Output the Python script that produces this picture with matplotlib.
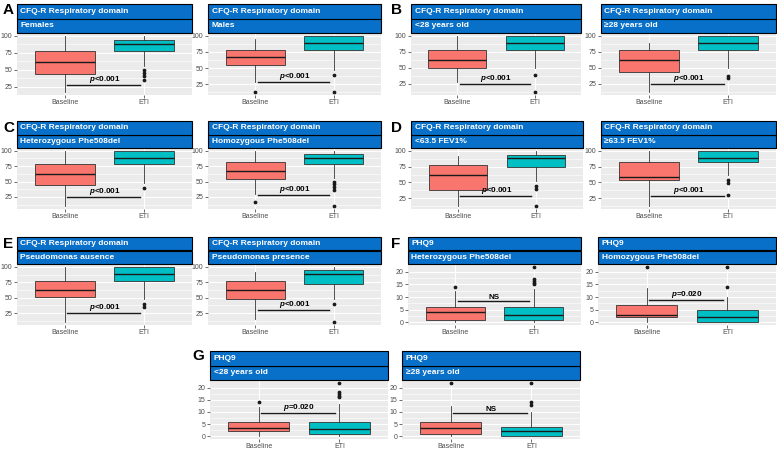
import matplotlib

matplotlib.use("Agg")
import matplotlib.pyplot as plt
from matplotlib.patches import Rectangle

plt.rcParams["font.family"] = ["Liberation Sans", "DejaVu Sans"]
plt.rcParams["mathtext.fontset"] = "custom"
plt.rcParams["mathtext.bfit"] = "Liberation Sans:italic:bold"
plt.rcParams["mathtext.rm"] = "Liberation Sans:bold"

# ---- data ----
groups = ["Baseline", "ETI"]
strip_top = ["CFQ-R Respiratory domain"] * 10 + ["PHQ9"] * 4
strip_sub = [
    "Females", "Males",
    "<28 years old", "≥28 years old",
    "Heterozygous Phe508del", "Homozygous Phe508del",
    "<63.5 FEV1%", "≥63.5 FEV1%",
    "Pseudomonas ausence", "Pseudomonas presence",
    "Heterozygous Phe508del", "Homozygous Phe508del",
    "<28 years old", "≥28 years old",
]
panel_letters = ["A", "B", "C", "D", "E", "F", "G"]

# Baseline box stats
base_lo = [17, 28, 28, 12, 10, 30, 12.5, 12, 10.5, 16, 0, 0, 0, 0]
base_q1 = [44, 54.5, 50, 44, 45, 55, 37.5, 54, 51, 47.5, 0.8, 2, 2, 1]
base_med = [61, 67, 62, 62, 62, 67, 62, 59, 62.5, 62.5, 4, 3, 3.5, 3.5]
base_q3 = [77, 78, 78, 78, 78, 81, 78, 82, 77.5, 77.5, 6, 7, 6, 6]
base_hi = [100, 95, 100, 89, 100, 100, 92.5, 100, 100, 91, 12.5, 13.5, 12, 12.5]
base_out = [[], [12.5], [], [], [], [17], [], [], [], [], [14], [22], [14], [22]]

# ETI box stats
eti_lo = [56, 47, 50, 50, 48, 56, 52, 62, 48, 48, 0, 0, 0, 0]
eti_q1 = [77, 78, 78, 78, 78, 78, 75, 82, 77.5, 72, 0.8, 0, 1, 0]
eti_med = [88, 89, 89, 89, 89, 89, 88.5, 88.5, 89, 89, 3, 2, 3, 2]
eti_q3 = [94, 100, 100, 100, 100, 94.5, 94, 100, 100, 95, 6, 4.7, 6, 4]
eti_hi = [100, 100, 100, 100, 100, 100, 100, 100, 100, 100, 13, 10, 13.3, 10]
eti_out = [
    [50, 45, 40, 35], [39.5, 12.5], [39, 12], [38, 34], [39],
    [50, 46, 41.5, 37, 10], [45, 40, 12.5], [54, 49, 30], [40, 35], [40, 10.5],
    [15, 15.7, 16.3, 17, 22], [14, 22], [16, 16.7, 17.3, 18, 22], [13, 14, 22],
]

sig_y = [28, 28, 25.5, 25.5, 25.5, 29, 28.5, 28.5, 25, 29.5, 8.3, 9, 9.4, 9.4]
sig_label = [r"$\mathbfit{p}$<0.001"] * 10 + ["NS", r"$\mathbfit{p}$=0.020", r"$\mathbfit{p}$=0.020", "NS"]

cfq_ticks = [25, 50, 75, 100]
phq_ticks = [0, 5, 10, 15, 20]

# ---- layout (pixels, top-left origin) ----
W, H = 777, 451
rows = [(4, 33, 95), (121, 148, 209), (237, 264, 325), (351, 380, 439)]
cols = [
    (17, 192, 0), (208, 381, 0), (411, 581, 0), (601, 776, 0),
    (17, 192, 1), (208, 381, 1), (411, 583, 1), (601, 776, 1),
    (17, 192, 2), (208, 381, 2), (408, 581, 2), (598, 776, 2),
    (210, 388, 3), (402, 580, 3),
]
letter_pos = [(3, 3), (391, 3), (3, 121), (391, 121), (3, 237), (391, 237), (192, 349)]

FILL = ["#F8766D", "#00BFC4"]
STRIP = "#0870C8"


def px_axes(fig, x0, y0, x1, y1):
    return fig.add_axes([x0 / W, 1 - y1 / H, (x1 - x0) / W, (y1 - y0) / H])


fig = plt.figure(figsize=(W / 100, H / 100), dpi=100)
fig.patch.set_facecolor("white")

for i in range(14):
    x0, x1, r = cols[i]
    s0, p0, p1 = rows[r]

    ax = px_axes(fig, x0, p0, x1, p1)
    ax.set_facecolor("#EBEBEB")
    stats = [
        dict(whislo=base_lo[i], q1=base_q1[i], med=base_med[i], q3=base_q3[i],
             whishi=base_hi[i], fliers=base_out[i]),
        dict(whislo=eti_lo[i], q1=eti_q1[i], med=eti_med[i], q3=eti_q3[i],
             whishi=eti_hi[i], fliers=eti_out[i]),
    ]
    bp = ax.bxp(
        stats,
        positions=[1, 2],
        widths=0.75,
        patch_artist=True,
        showcaps=False,
        boxprops=dict(edgecolor="#333333", linewidth=0.6),
        medianprops=dict(color="#1a1a1a", linewidth=1.0),
        whiskerprops=dict(color="#333333", linewidth=0.6),
        flierprops=dict(marker="o", markersize=1.7, markerfacecolor="#1a1a1a",
                        markeredgecolor="#1a1a1a", linestyle="none"),
    )
    for patch, c in zip(bp["boxes"], FILL):
        patch.set_facecolor(c)

    # significance bar
    ax.plot([1.03, 1.94], [sig_y[i], sig_y[i]], color="#1a1a1a", lw=1.0, zorder=4)
    ax.text(1.5, sig_y[i], sig_label[i], ha="center", va="bottom",
            fontsize=5.8, fontweight="bold", zorder=5)

    # ggplot-like expanded limits
    vals = [base_lo[i], base_hi[i], eti_lo[i], eti_hi[i]] + base_out[i] + eti_out[i]
    lo, hi = min(vals), max(vals)
    pad = 0.05 * (hi - lo)
    ax.set_ylim(lo - pad, hi + pad)
    ax.set_xlim(0.4, 2.6)

    ticks = cfq_ticks if i < 10 else phq_ticks
    step = ticks[1] - ticks[0]
    minor = [t + step / 2 for t in ticks[:-1]]
    if i < 10:
        minor.append(ticks[0] - step / 2)
    ax.set_yticks(ticks)
    ax.set_yticks(minor, minor=True)
    ax.set_xticks([1, 2])
    ax.set_xticklabels(groups)
    ax.grid(which="major", color="white", lw=0.8)
    ax.grid(which="minor", axis="y", color="white", lw=0.4)
    ax.set_axisbelow(True)
    for sp in ax.spines.values():
        sp.set_visible(False)
    ax.tick_params(which="major", length=2, width=0.5, color="#333333",
                   labelsize=5, labelcolor="#4D4D4D", pad=1.2)
    ax.tick_params(which="minor", length=0)

    # two-row strip on top
    sax = px_axes(fig, x0, s0, x1, p0)
    sax.set_xlim(0, 1)
    sax.set_ylim(0, 2)
    sax.axis("off")
    for k, txt in enumerate([strip_sub[i], strip_top[i]]):
        sax.add_patch(Rectangle((0, k), 1, 1, facecolor=STRIP, edgecolor="black",
                                lw=0.8, clip_on=False))
        sax.text(3.5 / (x1 - x0), k + 0.5, txt, color="white", fontsize=6.0,
                 fontweight="bold", ha="left", va="center")

for letter, (lx, ly) in zip(panel_letters, letter_pos):
    fig.text(lx / W, 1 - ly / H, letter, fontsize=11, fontweight="bold",
             ha="left", va="top", family=["Liberation Sans Narrow", "Liberation Sans"])

fig.savefig("out.png", dpi=100)
